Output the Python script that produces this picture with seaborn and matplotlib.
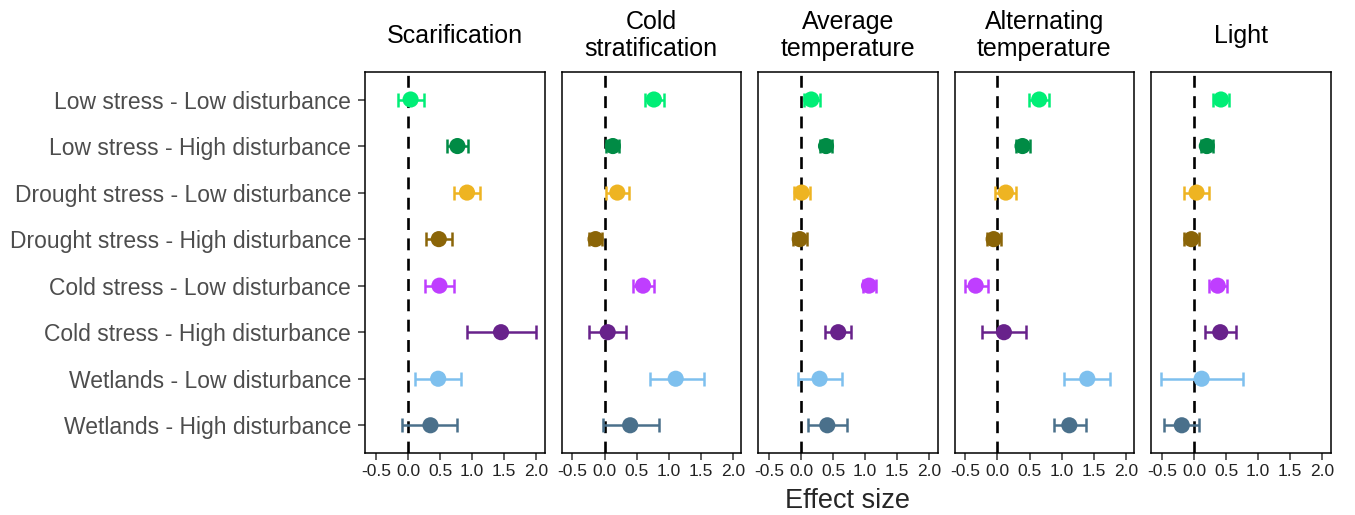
import numpy as np
import pandas as pd
import matplotlib
matplotlib.use("Agg")
import matplotlib.pyplot as plt
import seaborn as sns

treatments = ["Scarification", "Cold\nstratification", "Average\ntemperature",
              "Alternating\ntemperature", "Light"]
groups = ["Low stress - Low disturbance", "Low stress - High disturbance",
          "Drought stress - Low disturbance", "Drought stress - High disturbance",
          "Cold stress - Low disturbance", "Cold stress - High disturbance",
          "Wetlands - Low disturbance", "Wetlands - High disturbance"]
group_colors = ["#00EE76", "#008B45", "#EEB422", "#8B6508",
                "#BF3EFF", "#68228B", "#7EC0EE", "#4A708B"]

# effect sizes and confidence limits, one list per treatment (in group order)
scar_est = [0.04, 0.77, 0.92, 0.48, 0.49, 1.45, 0.47, 0.35]
scar_lo = [-0.16, 0.60, 0.72, 0.28, 0.26, 0.92, 0.11, -0.09]
scar_hi = [0.25, 0.93, 1.12, 0.68, 0.71, 2.00, 0.82, 0.77]

cold_est = [0.77, 0.13, 0.20, -0.14, 0.60, 0.05, 1.11, 0.40]
cold_lo = [0.63, 0.03, 0.02, -0.24, 0.45, -0.24, 0.71, -0.03]
cold_hi = [0.92, 0.23, 0.38, -0.04, 0.77, 0.34, 1.55, 0.85]

avg_est = [0.16, 0.39, 0.01, -0.02, 1.06, 0.58, 0.29, 0.41]
avg_lo = [0.04, 0.30, -0.11, -0.12, 0.96, 0.38, -0.05, 0.11]
avg_hi = [0.29, 0.48, 0.14, 0.09, 1.17, 0.78, 0.64, 0.72]

alt_est = [0.65, 0.39, 0.13, -0.06, -0.34, 0.10, 1.40, 1.12]
alt_lo = [0.49, 0.29, -0.04, -0.17, -0.51, -0.24, 1.03, 0.88]
alt_hi = [0.80, 0.50, 0.29, 0.06, -0.15, 0.45, 1.75, 1.38]

light_est = [0.42, 0.20, 0.04, -0.04, 0.37, 0.41, 0.12, -0.19]
light_lo = [0.29, 0.11, -0.16, -0.15, 0.23, 0.17, -0.52, -0.46]
light_hi = [0.55, 0.30, 0.24, 0.08, 0.52, 0.66, 0.76, 0.08]

x_ticks = [-0.5, 0.0, 0.5, 1.0, 1.5, 2.0]

all_est = [scar_est, cold_est, avg_est, alt_est, light_est]
all_lo = [scar_lo, cold_lo, avg_lo, alt_lo, light_lo]
all_hi = [scar_hi, cold_hi, avg_hi, alt_hi, light_hi]

rows = []
for t, est, lo, hi in zip(treatments, all_est, all_lo, all_hi):
    for i, g in enumerate(groups):
        rows.append({"treatment": t, "group": g, "pos": i,
                     "est": est[i], "lo": lo[i], "hi": hi[i]})
df = pd.DataFrame(rows)

sns.set_style("white")
plt.rcParams["font.family"] = ["Liberation Sans", "DejaVu Sans"]

fig, axes = plt.subplots(1, 5, figsize=(13.55, 5.15), dpi=100, sharey=True)
fig.subplots_adjust(left=0.2694, right=0.982, top=0.861, bottom=0.120, wspace=0.094)

palette = dict(zip(groups, group_colors))

for k, (ax, t) in enumerate(zip(axes, treatments)):
    sub = df[df["treatment"] == t]
    ax.axvline(0, color="black", linestyle=(0, (4.5, 3.2)), linewidth=1.9, zorder=1)
    for _, r in sub.iterrows():
        ax.errorbar(r["est"], r["pos"], xerr=[[r["est"] - r["lo"]], [r["hi"] - r["est"]]],
                    fmt="none", ecolor=palette[r["group"]], elinewidth=1.8,
                    capsize=5.3, capthick=1.8, zorder=2)
    sns.scatterplot(data=sub, x="est", y="pos", hue="group", palette=palette,
                    hue_order=groups, s=135, edgecolor="none", legend=False,
                    ax=ax, zorder=3)
    ax.set_xlim(-0.67, 2.13)
    ax.set_ylim(len(groups) - 0.4, -0.6)
    ax.set_xticks(x_ticks)
    ax.set_xticklabels([f"{v:.1f}" for v in x_ticks], fontsize=12.5, color="#222222")
    ax.set_yticks(range(len(groups)))
    ax.set_yticklabels(groups, fontsize=16.5, color="#4d4d4d")
    ax.set_xlabel("")
    ax.set_ylabel("")
    # strip label, centred vertically in the strip above each panel
    ax.text(0.5, 1.0 + 36 / 381, t, transform=ax.transAxes, ha="center", va="center",
            fontsize=18, color="black", linespacing=1.2)
    ax.tick_params(axis="both", direction="out", length=5, width=1.1, color="#333333",
                   left=(k == 0), bottom=True, pad=3)
    ax.tick_params(axis="y", pad=5)
    for sp in ax.spines.values():
        sp.set_color("black")
        sp.set_linewidth(1.1)

fig.text((0.2694 + 0.982) / 2, 7 / 515, "Effect size", ha="center", va="baseline", fontsize=19.5)

fig.savefig("out.png", dpi=100)
